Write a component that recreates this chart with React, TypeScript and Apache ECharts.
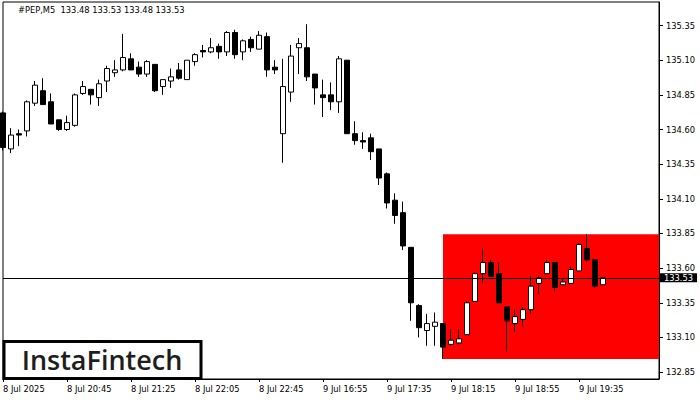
import React, { useEffect, useRef } from "react";
import * as echarts from "echarts";

const symbolTitle = "#PEP,M5";
const firstLabel = "8 Jul 2025";

const times = [
  "8 Jul 20:05", "8 Jul 20:10", "8 Jul 20:15", "8 Jul 20:20", "8 Jul 20:25", "8 Jul 20:30", "8 Jul 20:35", "8 Jul 20:40",
  "8 Jul 20:45", "8 Jul 20:50", "8 Jul 20:55", "8 Jul 21:00", "8 Jul 21:05", "8 Jul 21:10", "8 Jul 21:15", "8 Jul 21:20",
  "8 Jul 21:25", "8 Jul 21:30", "8 Jul 21:35", "8 Jul 21:40", "8 Jul 21:45", "8 Jul 21:50", "8 Jul 21:55", "8 Jul 22:00",
  "8 Jul 22:05", "8 Jul 22:10", "8 Jul 22:15", "8 Jul 22:20", "8 Jul 22:25", "8 Jul 22:30", "8 Jul 22:35", "8 Jul 22:40",
  "8 Jul 22:45", "8 Jul 22:50", "8 Jul 22:55", "9 Jul 16:30", "9 Jul 16:35", "9 Jul 16:40", "9 Jul 16:45", "9 Jul 16:50",
  "9 Jul 16:55", "9 Jul 17:00", "9 Jul 17:05", "9 Jul 17:10", "9 Jul 17:15", "9 Jul 17:20", "9 Jul 17:25", "9 Jul 17:30",
  "9 Jul 17:35", "9 Jul 17:40", "9 Jul 17:45", "9 Jul 17:50", "9 Jul 17:55", "9 Jul 18:00", "9 Jul 18:05", "9 Jul 18:10",
  "9 Jul 18:15", "9 Jul 18:20", "9 Jul 18:25", "9 Jul 18:30", "9 Jul 18:35", "9 Jul 18:40", "9 Jul 18:45", "9 Jul 18:50",
  "9 Jul 18:55", "9 Jul 19:00", "9 Jul 19:05", "9 Jul 19:10", "9 Jul 19:15", "9 Jul 19:20", "9 Jul 19:25", "9 Jul 19:30",
  "9 Jul 19:35", "9 Jul 19:40", "9 Jul 19:45", "9 Jul 19:50",
];
// empty slots to the right of the last bar
const futureSlots = ["9 Jul 19:55", "9 Jul 20:00", "9 Jul 20:05", "9 Jul 20:10", "9 Jul 20:15", "9 Jul 20:20", "9 Jul 20:25"];

const opens = [
  134.72, 134.46, 134.57, 134.59, 134.79, 134.88, 134.80, 134.67, 134.60, 134.63,
  134.86, 134.89, 134.83, 134.95, 135.01, 135.03, 135.11, 135.05, 135.00, 135.07,
  134.91, 134.95, 135.03, 134.96, 135.09, 135.17, 135.16, 135.20, 135.16, 135.30,
  135.16, 135.25, 135.18, 135.27, 135.05, 134.57, 134.87, 135.19, 135.19, 135.00,
  134.85, 134.85, 134.80, 135.10, 134.57, 134.52, 134.54, 134.46, 134.28, 134.09,
  134.00, 133.75, 133.33, 133.15, 133.18, 133.20, 133.05, 133.06, 133.12, 133.36,
  133.56, 133.64, 133.56, 133.32, 133.20, 133.23, 133.30, 133.49, 133.56, 133.64,
  133.48, 133.49, 133.58, 133.74, 133.66, 133.48,
];
const closes = [
  134.47, 134.56, 134.56, 134.80, 134.92, 134.78, 134.64, 134.60, 134.65, 134.85,
  134.91, 134.85, 134.93, 135.04, 135.03, 135.12, 135.03, 135.00, 135.09, 134.88,
  134.96, 134.98, 134.97, 135.10, 135.14, 135.16, 135.19, 135.16, 135.30, 135.14,
  135.24, 135.19, 135.28, 135.03, 135.03, 134.91, 135.13, 135.22, 134.98, 134.90,
  134.83, 134.80, 135.11, 134.57, 134.52, 134.51, 134.44, 134.25, 134.07, 133.98,
  133.76, 133.35, 133.17, 133.20, 133.21, 133.03, 133.08, 133.09, 133.35, 133.56,
  133.64, 133.54, 133.35, 133.22, 133.25, 133.30, 133.47, 133.53, 133.64, 133.46,
  133.50, 133.59, 133.77, 133.66, 133.47, 133.53,
];
const highs = [
  134.73, 134.61, 134.60, 134.81, 134.95, 134.97, 134.86, 134.67, 134.70, 134.86,
  134.95, 134.89, 134.96, 135.06, 135.10, 135.29, 135.15, 135.09, 135.10, 135.07,
  134.96, 135.04, 135.08, 135.10, 135.15, 135.21, 135.26, 135.22, 135.31, 135.32,
  135.25, 135.27, 135.31, 135.30, 135.10, 135.11, 135.21, 135.26, 135.36, 135.00,
  134.96, 134.94, 135.13, 135.10, 134.66, 134.58, 134.57, 134.46, 134.29, 134.14,
  134.08, 133.75, 133.34, 133.27, 133.28, 133.20, 133.16, 133.16, 133.36, 133.57,
  133.74, 133.66, 133.64, 133.32, 133.30, 133.32, 133.54, 133.54, 133.66, 133.64,
  133.52, 133.61, 133.78, 133.845, 133.66, 133.53,
];
const lows = [
  134.45, 134.43, 134.48, 134.55, 134.77, 134.78, 134.64, 134.59, 134.59, 134.62,
  134.85, 134.78, 134.77, 134.87, 134.98, 135.02, 135.03, 134.98, 134.98, 134.87,
  134.85, 134.90, 134.96, 134.96, 135.06, 135.12, 135.15, 135.11, 135.13, 135.11,
  135.10, 135.16, 135.18, 134.98, 135.00, 134.36, 134.80, 135.00, 134.95, 134.78,
  134.69, 134.74, 134.72, 134.57, 134.49, 134.46, 134.38, 134.20, 134.03, 133.92,
  133.73, 133.22, 133.10, 133.04, 133.04, 132.945, 133.04, 133.05, 133.12, 133.36,
  133.49, 133.54, 133.35, 133.00, 133.14, 133.18, 133.27, 133.41, 133.56, 133.43,
  133.48, 133.49, 133.58, 133.65, 133.46, 133.48,
];

const yTickValues = [132.85, 133.1, 133.35, 133.6, 133.85, 134.1, 134.35, 134.6, 134.85, 135.1, 135.35];
const yMin = 132.8;
const yMax = 135.52;
const patternStartIndex = 55;
const patternTop = 133.845;
const patternBottom = 132.945;

const FONT = "DejaVu Sans";
const FS = 8.3;

export default function App() {
  const ref = useRef<HTMLDivElement>(null);
  useEffect(() => {
    if (!ref.current) return;
    const chart = echarts.init(ref.current, undefined, { renderer: "svg" });
    const cats = times.concat(futureSlots);
    const last = opens.length - 1;
    const lastPrice = closes[last];
    const data = opens.map((o, i) => [o, closes[i], lows[i], highs[i]]);
    const showIdx = (index: number) => index % 8 === 0 && index <= 72;
    const title = `${symbolTitle}  ${opens[last].toFixed(2)} ${highs[last].toFixed(2)} ${lows[last].toFixed(2)} ${closes[last].toFixed(2)}`;

    chart.setOption({
      animation: false,
      backgroundColor: "#fff",
      grid: {
        left: 3,
        right: 41,
        top: 2,
        bottom: 21,
        show: true,
        borderColor: "#000",
        borderWidth: 1,
        backgroundColor: "transparent",
      },
      xAxis: {
        type: "category",
        data: cats,
        boundaryGap: false,
        axisLine: { onZero: false, lineStyle: { color: "#000", width: 1 } },
        axisTick: { interval: (i: number) => showIdx(i), length: 3, lineStyle: { color: "#000" } },
        axisLabel: {
          interval: (i: number) => showIdx(i),
          formatter: (v: string, i: number) => (i === 0 ? firstLabel : v),
          align: "left",
          color: "#000",
          fontSize: FS,
          fontFamily: FONT,
          margin: 6,
        },
        splitLine: { show: false },
      },
      yAxis: {
        type: "value",
        position: "right",
        min: yMin,
        max: yMax,
        scale: true,
        axisLine: { show: true, onZero: false, lineStyle: { color: "#000", width: 1 } },
        axisTick: { show: true, length: 4, customValues: yTickValues, lineStyle: { color: "#000" } },
        axisLabel: {
          customValues: yTickValues,
          formatter: (v: number) => v.toFixed(2),
          color: "#000",
          fontSize: FS,
          fontFamily: FONT,
          margin: 7,
        },
        splitLine: { show: false },
      },
      series: [
        {
          type: "line",
          data: [],
          z: 1,
          silent: true,
          markArea: {
            silent: true,
            itemStyle: { color: "#ff0000", opacity: 1 },
            data: [
              [
                { xAxis: patternStartIndex, yAxis: patternTop },
                { xAxis: cats.length - 1, yAxis: patternBottom },
              ],
            ],
          },
        },
        {
          type: "candlestick",
          z: 3,
          barWidth: 5,
          data,
          itemStyle: {
            color: "#ffffff",
            color0: "#000000",
            borderColor: "#000000",
            borderColor0: "#000000",
            borderWidth: 1,
          },
          markLine: {
            silent: true,
            symbol: ["none", "none"],
            lineStyle: { color: "#000", width: 1, type: "solid" },
            emphasis: { disabled: true },
            label: {
              show: true,
              position: "end",
              formatter: lastPrice.toFixed(2),
              color: "#fff",
              backgroundColor: "#000",
              padding: [0, 4, 0, 4],
              lineHeight: 9,
              fontSize: FS,
              fontFamily: FONT,
              distance: 1,
            },
            data: [{ yAxis: lastPrice }],
          },
        },
      ],
      graphic: [
        {
          type: "text",
          left: 18,
          top: 6,
          z: 50,
          style: { text: title, fill: "#000", fontSize: FS, fontFamily: FONT },
        },
        {
          type: "rect",
          z: 100,
          shape: { x: 4, y: 341.5, width: 197, height: 37 },
          style: { fill: "#fff", stroke: "#000", lineWidth: 3 },
        },
        {
          type: "text",
          z: 101,
          x: 102,
          y: 359.5,
          style: {
            text: "InstaFintech",
            fill: "#1e1e1e",
            fontSize: 27,
            fontWeight: 600,
            fontFamily: "Open Sans",
            align: "center",
            verticalAlign: "middle",
          },
        },
      ],
    });
    return () => chart.dispose();
  }, []);
  return (
    <div
      ref={ref}
      style={{ position: "fixed", left: 0, top: 0, width: 700, height: 400, background: "#fff" }}
    />
  );
}
